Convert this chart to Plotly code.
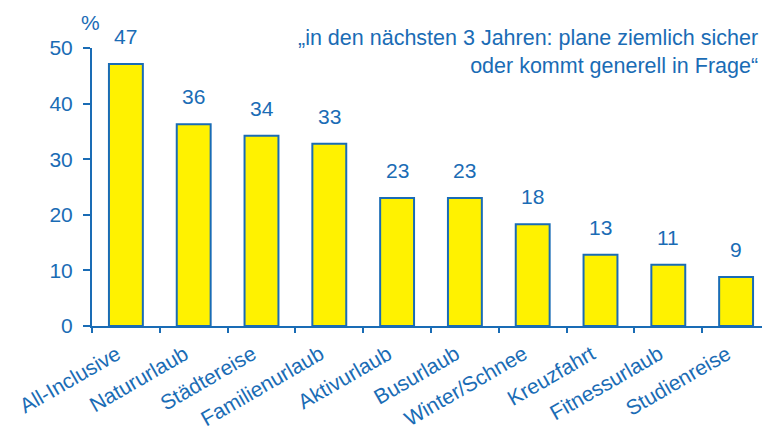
import plotly.graph_objects as go

categories = ["All-Inclusive", "Natururlaub", "Städtereise", "Familienurlaub", "Aktivurlaub",
              "Busurlaub", "Winter/Schnee", "Kreuzfahrt", "Fitnessurlaub", "Studienreise"]
values = [47.1, 36.3, 34.2, 32.8, 23.0, 23.0, 18.3, 12.8, 11.0, 8.8]
y_ticks = [0, 10, 20, 30, 40, 50]

BLUE = "#1a6cb5"
YELLOW = "#fff200"
FONT = "Liberation Sans, Arial, sans-serif"

fig = go.Figure()
fig.add_trace(go.Bar(
    x=categories, y=values,
    marker=dict(color=YELLOW, line=dict(color=BLUE, width=2)),
    hoverinfo="skip",
))

for c, v in zip(categories, values):
    fig.add_annotation(x=c, y=v, text=str(round(v)), showarrow=False,
                       yanchor="bottom", yshift=14,
                       font=dict(family=FONT, size=21, color=BLUE))

fig.add_annotation(xref="paper", yref="paper", x=1, y=1.085,
                   xanchor="right", yanchor="top", xshift=-10, align="right",
                   text="„in den nächsten 3 Jahren: plane ziemlich sicher<br>oder kommt generell in Frage“",
                   showarrow=False, font=dict(family=FONT, size=21.5, color=BLUE))
fig.add_annotation(xref="paper", yref="paper", x=0, y=1.0935, xanchor="center", yanchor="middle",
                   xshift=-2, text="%", showarrow=False,
                   font=dict(family=FONT, size=21, color=BLUE))

# the page body adds an 8px offset, so the figure is sized to the visible area
fig.update_layout(
    width=762, height=424,
    margin=dict(l=84, r=0, t=40, b=106, autoexpand=False),
    plot_bgcolor="white", paper_bgcolor="white",
    bargap=0.5, showlegend=False,
    font=dict(family=FONT, color=BLUE),
)
fig.update_xaxes(
    type="category", range=[-0.5, 9.5], automargin=False,
    showline=True, linecolor=BLUE, linewidth=2,
    ticks="outside", tickson="boundaries", ticklen=5, tickwidth=2, tickcolor=BLUE,
    tickangle=-30, tickfont=dict(family=FONT, size=21, color=BLUE),
    ticklabelstandoff=6, ticklabelshift=-9,
    showgrid=False,
)
fig.update_yaxes(
    range=[0, 50], tickvals=y_ticks, automargin=False,
    showline=True, linecolor=BLUE, linewidth=2,
    ticks="outside", ticklen=7, tickwidth=2, tickcolor=BLUE,
    tickfont=dict(family=FONT, size=21, color=BLUE), ticklabelstandoff=6,
    showgrid=False, zeroline=False,
)

fig.write_html("out.html")
